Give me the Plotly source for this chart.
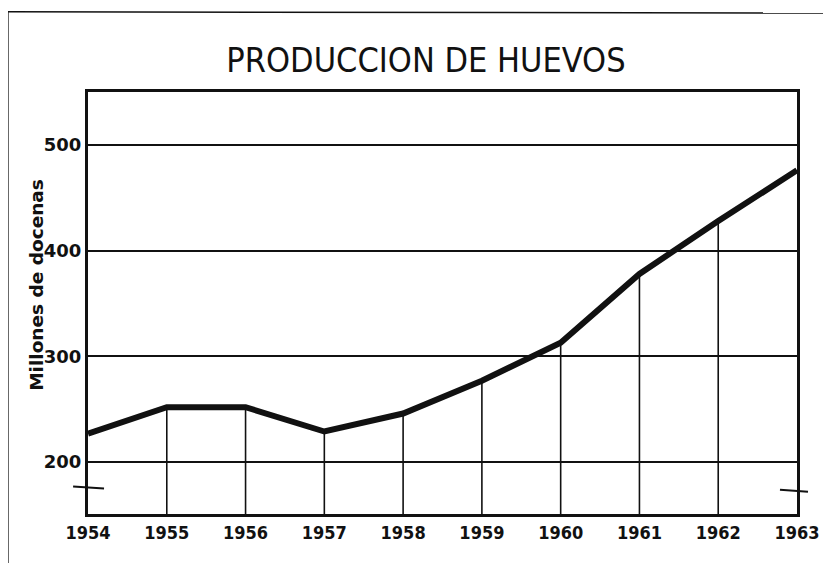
import plotly.graph_objects as go

years = [1954, 1955, 1956, 1957, 1958, 1959, 1960, 1961, 1962, 1963]
year_labels = ["1954", "1955", "1956", "1957", "1958", "1959", "1960", "1961", "1962", "1963"]
production = [227, 252, 252, 229, 246, 277, 313, 378, 428, 476]
y_ticks = [200, 300, 400, 500]
y_range = [151, 550]

fig = go.Figure()

# drop lines from the curve to the bottom of the plot (inner years)
dx, dy = [], []
for x, v in zip(years[1:-1], production[1:-1]):
    dx += [x, x, None]
    dy += [v, y_range[0], None]
fig.add_trace(go.Scatter(x=dx, y=dy, mode="lines",
                         line=dict(color="#111", width=1.6),
                         hoverinfo="skip", showlegend=False))

fig.add_trace(go.Scatter(x=years, y=production, mode="lines",
                         line=dict(color="#111", width=6),
                         showlegend=False))

font_title = "DejaVu Sans Condensed, Liberation Sans Narrow, sans-serif"
font_ticks = "DejaVu Sans Condensed, DejaVu Sans, sans-serif"

fig.update_layout(
    width=831, height=563,
    margin=dict(l=80, r=42, t=84, b=57),
    paper_bgcolor="white", plot_bgcolor="white",
    title=dict(text="PRODUCCION DE HUEVOS", xref="container", x=0.503, xanchor="center",
               yref="container", y=0.908, yanchor="middle",
               font=dict(family=font_title, size=34, color="#111")),
    xaxis=dict(range=[years[0], years[-1]], tickvals=years, ticktext=year_labels,
               showgrid=False, zeroline=False, showline=True, mirror=True,
               linecolor="#111", linewidth=3, ticks="",
               tickfont=dict(family=font_ticks, size=18, color="#111", weight="bold")),
    yaxis=dict(range=y_range, tickvals=y_ticks, showgrid=True, gridcolor="#111",
               gridwidth=1.5, zeroline=False, showline=True, mirror=True,
               linecolor="#111", linewidth=3, ticks="",
               tickfont=dict(family="DejaVu Sans, sans-serif", size=18, color="#111",
                             weight="bold")),
    annotations=[
        dict(text="Millones de docenas", xref="paper", yref="paper", x=-0.072, y=0.543,
             xanchor="center", yanchor="middle", textangle=-90, showarrow=False,
             font=dict(family="DejaVu Sans, sans-serif", size=18.5, color="#111",
                       weight="bold")),
    ],
    shapes=[
        # outer frame (left and top edges)
        dict(type="line", xref="paper", yref="paper", x0=-0.113, x1=-0.113, y0=1.19, y1=-0.14,
             line=dict(color="#111", width=1.5)),
        dict(type="line", xref="paper", yref="paper", x0=-0.113, x1=1.07, y0=1.19, y1=1.187,
             line=dict(color="#111", width=1.5)),
        # axis break marks
        dict(type="line", xref="paper", yref="y", x0=-0.021, x1=0.0226, y0=177, y1=175,
             line=dict(color="#111", width=2)),
        dict(type="line", xref="paper", yref="y", x0=0.976, x1=1.0155, y0=174, y1=172,
             line=dict(color="#111", width=2)),
    ],
)

fig.write_html("out.html")
